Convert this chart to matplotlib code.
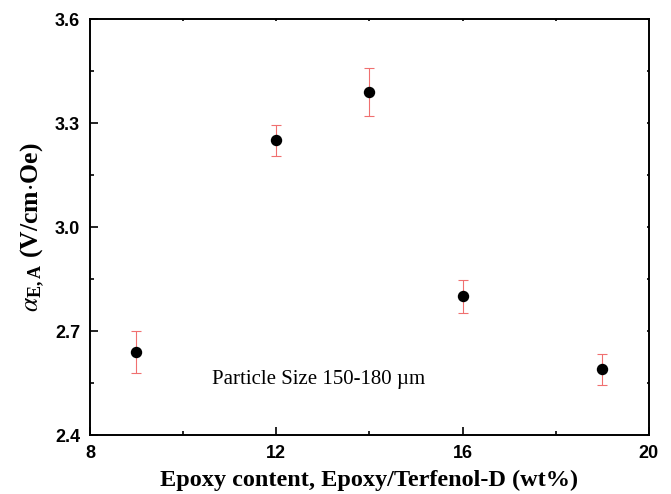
import numpy as np
import matplotlib
matplotlib.use("Agg")
import matplotlib.pyplot as plt
from matplotlib.ticker import MultipleLocator

# data
epoxy = [9, 12, 14, 16, 19]
alpha = [2.64, 3.25, 3.39, 2.80, 2.59]
alpha_err = [0.06, 0.045, 0.07, 0.048, 0.045]

xticks = [8, 12, 16, 20]
yticks = [2.4, 2.7, 3.0, 3.3, 3.6]

plt.rcParams['mathtext.fontset'] = 'stix'

fig = plt.figure(figsize=(6.71, 4.94), dpi=100)
ax = fig.add_axes([0.134, 0.1194, 0.833, 0.8421])

ax.errorbar(epoxy, alpha, yerr=alpha_err, fmt='o', color='black',
            markersize=7.2, ecolor='#f07070', elinewidth=0.8,
            capsize=3.5, capthick=0.8)

ax.set_xlim(8, 20)
ax.set_ylim(2.4, 3.6)
ax.set_xticks(xticks)
ax.set_yticks(yticks)
ax.xaxis.set_minor_locator(MultipleLocator(2))
ax.yaxis.set_minor_locator(MultipleLocator(0.15))
ax.set_yticklabels([f"{v:.1f}" for v in yticks])

for s in ax.spines.values():
    s.set_linewidth(1.4)

ax.tick_params(which='both', direction='in', top=True, right=True,
               width=1.2, labelsize=13, pad=7)
ax.tick_params(which='major', length=6)
ax.tick_params(which='minor', length=3)
# top and right ticks are barely visible in the original
for t in ax.xaxis.get_major_ticks() + ax.xaxis.get_minor_ticks():
    t.tick2line.set_markersize(1.5)
for t in ax.yaxis.get_major_ticks() + ax.yaxis.get_minor_ticks():
    t.tick2line.set_markersize(1.5)
for lab in ax.get_xticklabels() + ax.get_yticklabels():
    lab.set_fontfamily('Liberation Sans')
    lab.set_fontweight('bold')

ax.set_xlabel("Epoxy content, Epoxy/Terfenol-D (wt%)",
              fontfamily='Liberation Serif', fontweight='bold', fontsize=17.5,
              labelpad=6)
ax.set_ylabel(r"$\alpha_{\mathregular{E,A}}$ (V/cm$\cdot$Oe)",
              fontfamily='Liberation Serif', fontweight='bold', fontsize=18.5,
              labelpad=6)

ax.text(10.62, 2.56, "Particle Size 150-180 µm", fontfamily='Liberation Serif',
        fontsize=15, va='center', ha='left')

fig.savefig("out.png", dpi=100)
